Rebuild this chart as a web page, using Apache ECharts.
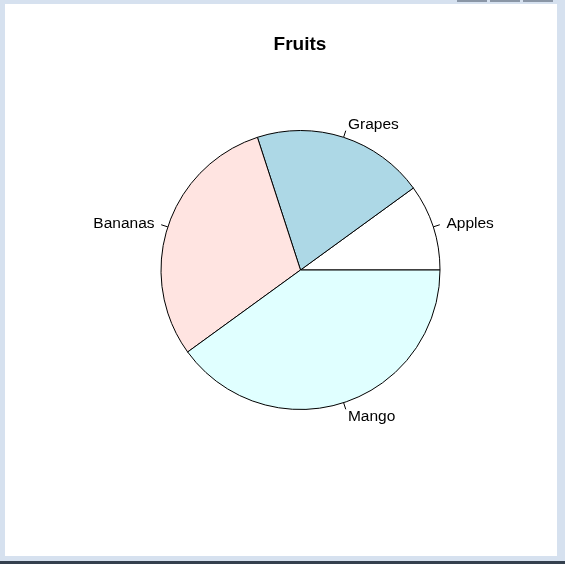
<!DOCTYPE html>
<html>
<head>
<meta charset="utf-8">
<script src="https://cdn.jsdelivr.net/npm/echarts@6/dist/echarts.min.js"></script>
<style>
  html, body { margin: 0; padding: 0; width: 565px; height: 564px; overflow: hidden; background: #d6e1ef; }
  #paper { position: absolute; left: 5px; top: 4px; width: 552px; height: 552px; background: #ffffff; }
  #bottomline { position: absolute; left: 0; top: 561px; width: 565px; height: 3px; background: #34404e; }
  .btn { position: absolute; top: 0; height: 2px; width: 30px; background: #8a96a6; }
  #chart { position: absolute; left: 0; top: 0; width: 565px; height: 564px; }
</style>
</head>
<body>
<div id="paper"></div>
<div id="bottomline"></div>
<div class="btn" style="left:457px"></div>
<div class="btn" style="left:490px"></div>
<div class="btn" style="left:523px"></div>
<div id="chart"></div>
<script>
const categories = ['Apples', 'Grapes', 'Bananas', 'Mango'];
const values = [10, 20, 30, 40];
const colors = ['#FFFFFF', '#ADD8E6', '#FFE4E1', '#E0FFFF'];
const titleText = 'Fruits';

const chart = echarts.init(document.getElementById('chart'), null, { renderer: 'canvas' });
const RADIUS = 139.5;
const option = {
  backgroundColor: 'transparent',
  animation: false,
  title: {
    text: titleText,
    left: 295,
    top: 30,
    textAlign: 'center',
    textStyle: { fontFamily: 'Liberation Sans, Arial, sans-serif', fontWeight: 'bold', fontSize: 19, color: '#000' }
  },
  series: [{
    type: 'pie',
    center: [300.5, 270],
    radius: [0, RADIUS],
    startAngle: 0,
    clockwise: false,
    avoidLabelOverlap: false,
    data: categories.map((c, i) => ({ name: c, value: values[i], itemStyle: { color: colors[i] } })),
    itemStyle: { borderColor: '#000', borderWidth: 1 },
    emphasis: { disabled: true },
    label: {
      show: true,
      position: 'outside',
      formatter: '{b}',
      fontFamily: 'Liberation Sans, Arial, sans-serif',
      fontSize: 15.5,
      color: '#000',
      distanceToLabelLine: 0
    },
    labelLine: {
      show: true,
      length: 7,
      length2: 0,
      smooth: false,
      lineStyle: { color: '#000', width: 1 }
    },
    labelLayout: function (params) {
      const pts = params.labelLinePoints;
      if (!pts || pts.length < 2) return {};
      const p0 = pts[0], p1 = pts[1];
      const dx = p1[0] - p0[0], dy = p1[1] - p0[1];
      const len = Math.sqrt(dx * dx + dy * dy) || 1;
      const ux = dx / len, uy = dy / len;
      const tx = p0[0] + ux * RADIUS * 0.1;
      const ty = p0[1] + uy * RADIUS * 0.1 + 1;
      return {
        x: tx,
        y: ty,
        align: ux >= 0 ? 'left' : 'right',
        verticalAlign: 'middle',
        labelLinePoints: [p0, [p0[0] + ux * RADIUS * 0.05, p0[1] + uy * RADIUS * 0.05]]
      };
    }
  }]
};
chart.setOption(option);
</script>
</body>
</html>
